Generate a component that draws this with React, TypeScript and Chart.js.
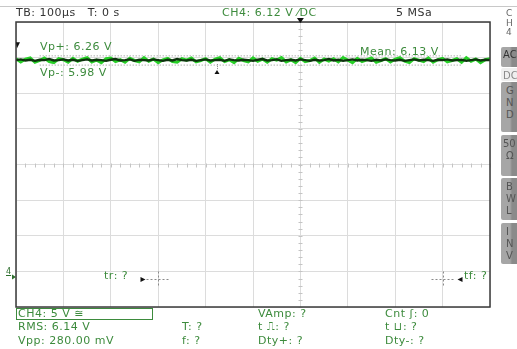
import React, { useEffect, useRef } from "react";
import { Chart, registerables } from "chart.js";
Chart.register(...registerables);

// Oscilloscope screen: 10 horizontal x 8 vertical divisions
const xRange = [0, 10];
const yRange = [-4, 4];

// CH4 trace (in divisions), bright envelope and dark core
const traceBright = [
  2.97, 2.88, 2.96, 2.99, 2.87, 2.92, 2.99, 2.89, 2.86, 2.97,
  2.94, 2.87, 2.98, 2.9, 2.96, 3.0, 2.88, 2.93, 2.86, 2.97,
  2.99, 2.89, 2.94, 2.87, 2.98, 2.92, 2.88, 3.0, 2.9, 2.96,
  2.86, 2.94, 2.98, 2.89, 2.87, 2.97, 2.93, 2.99, 2.88, 2.92,
  2.97, 2.87, 2.96, 3.0, 2.89, 2.94, 2.86, 2.98, 2.92, 2.88,
  2.99, 2.9, 2.96, 2.87, 2.97, 2.93, 3.0, 2.88, 2.94, 2.86,
  2.98, 2.89, 2.92, 2.99, 2.87, 2.96, 2.9, 2.97, 2.88, 3.0,
  2.93, 2.86, 2.98, 2.89, 2.94, 2.99, 2.87, 2.92, 2.97, 2.88,
  2.96, 3.0, 2.9, 2.86, 2.97, 2.93, 2.89, 2.99, 2.87, 2.94,
  2.98, 2.88, 2.92, 2.97, 2.87, 3.0, 2.9, 2.96, 2.86, 2.94, 2.97,
];
const traceCore = [
  2.93, 2.95, 2.92, 2.94, 2.91, 2.94, 2.93, 2.96, 2.92, 2.93,
  2.95, 2.92, 2.94, 2.91, 2.93, 2.95, 2.92, 2.94, 2.93, 2.91,
  2.94, 2.96, 2.92, 2.93, 2.95, 2.91, 2.94, 2.93, 2.92, 2.95,
  2.93, 2.91, 2.94, 2.92, 2.96, 2.93, 2.92, 2.94, 2.91, 2.93,
  2.95, 2.92, 2.93, 2.94, 2.91, 2.95, 2.93, 2.92, 2.94, 2.93,
  2.91, 2.94, 2.96, 2.92, 2.93, 2.95, 2.91, 2.93, 2.94, 2.92,
  2.95, 2.93, 2.91, 2.94, 2.92, 2.93, 2.96, 2.92, 2.94, 2.91,
  2.93, 2.95, 2.92, 2.94, 2.93, 2.91, 2.94, 2.92, 2.95, 2.93,
  2.92, 2.94, 2.91, 2.93, 2.95, 2.92, 2.94, 2.93, 2.91, 2.94,
  2.93, 2.95, 2.92, 2.93, 2.94, 2.91, 2.93, 2.95, 2.92, 2.94, 2.93,
];
// measurement cursors (divisions)
const vpPlusLevel = 3.05;
const vpMinusLevel = 2.79;
const vpSpan = [0.5, 9.4];
const triggerX = 6;
const preTriggerX = 4.24;
const groundLevel = -3.16;
const edgeCursorsX = [3, 9];
const edgeCursorY = -3.2;

const GREEN = "#3d8b3d";
const FONT = "'DejaVu Sans', Verdana, sans-serif";

const toXY = (arr: number[]) =>
  arr.map((v, i) => ({ x: xRange[0] + (i * (xRange[1] - xRange[0])) / (arr.length - 1), y: v }));

const scopePlugin = {
  id: "scope",
  beforeDatasetsDraw(chart: any) {
    const { ctx, scales } = chart;
    const x = scales.x, y = scales.y;
    const cx = Math.round(x.getPixelForValue(triggerX)) + 0.5;
    const cy = Math.round(y.getPixelForValue(0)) + 0.5;
    ctx.save();
    ctx.strokeStyle = "#c4c4c4";
    ctx.lineWidth = 1;
    ctx.beginPath();
    for (let i = 0; i <= 50; i++) {
      const px = Math.round(x.getPixelForValue(i / 5)) + 0.5;
      ctx.moveTo(px, cy - 2);
      ctx.lineTo(px, cy + 2);
    }
    for (let i = 0; i <= 40; i++) {
      const py = Math.round(y.getPixelForValue(-4 + i / 5)) + 0.5;
      ctx.moveTo(cx - 2, py);
      ctx.lineTo(cx + 2, py);
    }
    ctx.stroke();
    ctx.restore();
  },
  afterDatasetsDraw(chart: any) {
    const { ctx, chartArea: a, scales } = chart;
    const x = scales.x, y = scales.y;
    ctx.save();
    // frame
    ctx.strokeStyle = "#3a3a3a";
    ctx.lineWidth = 1.5;
    ctx.strokeRect(a.left, a.top, a.right - a.left, a.bottom - a.top);
    ctx.fillStyle = "#111";
    // trigger position marker on top
    const tx = x.getPixelForValue(triggerX);
    ctx.beginPath();
    ctx.moveTo(tx - 3.5, a.top - 4);
    ctx.lineTo(tx + 3.5, a.top - 4);
    ctx.lineTo(tx, a.top + 1);
    ctx.closePath();
    ctx.fill();
    // pre-trigger marker under trace
    const px = x.getPixelForValue(preTriggerX);
    const py = y.getPixelForValue(vpMinusLevel) + 4;
    ctx.strokeStyle = "#888";
    ctx.lineWidth = 1;
    ctx.setLineDash([1, 1]);
    ctx.beginPath();
    ctx.moveTo(Math.round(px) + 0.5, py - 5);
    ctx.lineTo(Math.round(px) + 0.5, py);
    ctx.stroke();
    ctx.setLineDash([]);
    ctx.beginPath();
    ctx.moveTo(px - 2.5, py + 5);
    ctx.lineTo(px + 2.5, py + 5);
    ctx.lineTo(px, py + 1);
    ctx.closePath();
    ctx.fill();
    // trigger level flag at left
    const fy = y.getPixelForValue(3.35);
    ctx.beginPath();
    ctx.moveTo(a.left, fy - 3);
    ctx.lineTo(a.left + 4, fy - 3);
    ctx.lineTo(a.left + 1, fy + 3);
    ctx.closePath();
    ctx.fill();
    // ground marker arrow
    const gy = y.getPixelForValue(groundLevel);
    ctx.fillStyle = "#2f6f2f";
    ctx.beginPath();
    ctx.moveTo(a.left - 4, gy - 2.5);
    ctx.lineTo(a.left, gy);
    ctx.lineTo(a.left - 4, gy + 2.5);
    ctx.closePath();
    ctx.fill();
    // edge cursors
    const ey = Math.round(y.getPixelForValue(edgeCursorY)) + 0.5;
    edgeCursorsX.forEach((v, k) => {
      const ex = Math.round(x.getPixelForValue(v)) + 0.5;
      ctx.strokeStyle = "#8a8a8a";
      ctx.setLineDash([2, 2]);
      ctx.beginPath();
      ctx.moveTo(ex, ey - 8);
      ctx.lineTo(ex, ey + 7);
      ctx.moveTo(ex - 12, ey);
      ctx.lineTo(ex + 12, ey);
      ctx.stroke();
      ctx.setLineDash([]);
      ctx.fillStyle = "#111";
      ctx.beginPath();
      if (k === 0) {
        ctx.moveTo(ex - 18, ey - 2.5);
        ctx.lineTo(ex - 13, ey);
        ctx.lineTo(ex - 18, ey + 2.5);
      } else {
        ctx.moveTo(ex + 19, ey - 2.5);
        ctx.lineTo(ex + 14, ey);
        ctx.lineTo(ex + 19, ey + 2.5);
      }
      ctx.closePath();
      ctx.fill();
    });
    ctx.restore();
  },
};

function T(props: { x: number; y: number; c?: string; s?: number; children: any }) {
  return (
    <div
      style={{
        position: "absolute",
        left: props.x,
        top: props.y - 7,
        height: 14,
        lineHeight: "14px",
        fontSize: props.s ?? 11,
        letterSpacing: "0.5px",
        color: props.c ?? GREEN,
        whiteSpace: "pre",
        fontFamily: FONT,
      }}
    >
      {props.children}
    </div>
  );
}

function Btn(props: { top: number; h: number; lines: string[]; light?: boolean; dark?: boolean }) {
  return (
    <div
      style={{
        position: "absolute",
        left: 501,
        top: props.top,
        width: 20,
        height: props.h,
        borderRadius: 2,
        background: props.light
          ? "#efefef"
          : "linear-gradient(to right, #a6a6a6 0%, #a6a6a6 45%, #8a8a8a 55%, #8a8a8a 100%)",
        color: props.light ? "#8a8a8a" : props.dark ? "#333" : "#555",
        fontFamily: FONT,
        fontSize: 10,
        lineHeight: "12px",
        paddingTop: props.lines.length > 1 ? 3 : 2,
        boxSizing: "border-box",
        paddingLeft: 2,
      }}
    >
      {props.lines.map((l, i) => (
        <div key={i} style={{ paddingLeft: props.lines.length > 1 && l.length === 1 ? 3 : 0 }}>
          {l}
        </div>
      ))}
    </div>
  );
}

export default function App() {
  const ref = useRef<HTMLCanvasElement>(null);
  useEffect(() => {
    document.body.style.margin = "0";
    const chart = new Chart(ref.current!, {
      type: "line",
      data: {
        datasets: [
          {
            data: vpSpan.map((v) => ({ x: v, y: vpPlusLevel })),
            borderColor: "#8c8c8c",
            borderWidth: 1,
            borderDash: [1, 2],
            pointRadius: 0,
            order: 3,
          },
          {
            data: vpSpan.map((v) => ({ x: v, y: vpMinusLevel })),
            borderColor: "#8c8c8c",
            borderWidth: 1,
            borderDash: [1, 2],
            pointRadius: 0,
            order: 3,
          },
          {
            data: toXY(traceBright),
            borderColor: "#27d027",
            borderWidth: 3,
            pointRadius: 0,
            tension: 0,
            order: 2,
          },
          {
            data: toXY(traceCore),
            borderColor: "#0d330d",
            borderWidth: 2.4,
            pointRadius: 0,
            tension: 0,
            order: 1,
          },
        ],
      },
      options: {
        animation: false,
        responsive: false,
        events: [],
        layout: { padding: { left: 16, top: 22, right: 27, bottom: 42 } },
        plugins: { legend: { display: false }, tooltip: { enabled: false } },
        scales: {
          x: {
            type: "linear",
            min: xRange[0],
            max: xRange[1],
            ticks: { display: false, stepSize: 1 },
            grid: { color: "#dcdcdc", drawTicks: false },
            border: { display: false },
          },
          y: {
            type: "linear",
            min: yRange[0],
            max: yRange[1],
            ticks: { display: false, stepSize: 1 },
            grid: { color: "#dcdcdc", drawTicks: false },
            border: { display: false },
          },
        },
      },
      plugins: [scopePlugin],
    });
    return () => chart.destroy();
  }, []);

  return (
    <div style={{ position: "fixed", left: 0, top: 0, width: 517, height: 349, background: "#fff", overflow: "hidden" }}>
      <div style={{ position: "absolute", left: 0, top: 6, width: 517, height: 1, background: "#c8c8c8" }} />
      <canvas ref={ref} width={517} height={349} style={{ position: "absolute", left: 0, top: 0 }} />
      {/* header */}
      <T x={16} y={13} c="#333">TB: 100µs   T: 0 s</T>
      <T x={222} y={13}>CH4: 6.12 V ⁄DC</T>
      <T x={396} y={13} c="#333">5 MSa</T>
      {/* side panel */}
      <div style={{ position: "absolute", left: 506, top: 9, fontFamily: FONT, fontSize: 9, lineHeight: "9.5px", color: "#666" }}>
        <div>C</div>
        <div>H</div>
        <div>4</div>
      </div>
      <Btn top={47} h={20} lines={["AC"]} dark />
      <Btn top={68} h={13} lines={["DC"]} light />
      <Btn top={82} h={50} lines={["G", "N", "D"]} />
      <Btn top={135} h={41} lines={["50", "Ω"]} />
      <Btn top={178} h={42} lines={["B", "W", "L"]} />
      <Btn top={223} h={41} lines={["I", "N", "V"]} />
      {/* in-plot labels */}
      <T x={40} y={47}>Vp+: 6.26 V</T>
      <T x={40} y={73}>Vp-: 5.98 V</T>
      <T x={360} y={52}>Mean: 6.13 V</T>
      <T x={104} y={276}>tr: ?</T>
      <T x={464} y={276}>tf: ?</T>
      <div style={{ position: "absolute", left: 6, top: 267, fontFamily: FONT, fontSize: 8, color: "#2f6f2f", textDecoration: "underline" }}>4</div>
      {/* bottom measurements */}
      <div style={{ position: "absolute", left: 16, top: 308, width: 137, height: 12, border: `1px solid ${GREEN}`, boxSizing: "border-box" }} />
      <T x={18} y={314}>CH4: 5 V ≅</T>
      <T x={18} y={327}>RMS: 6.14 V</T>
      <T x={18} y={341}>Vpp: 280.00 mV</T>
      <T x={182} y={327}>T: ?</T>
      <T x={182} y={341}>f: ?</T>
      <T x={258} y={314}>VAmp: ?</T>
      <T x={258} y={327}>t ⎍: ?</T>
      <T x={258} y={341}>Dty+: ?</T>
      <T x={385} y={314}>Cnt ʃ: 0</T>
      <T x={385} y={327}>t ⊔: ?</T>
      <T x={385} y={341}>Dty-: ?</T>
    </div>
  );
}
